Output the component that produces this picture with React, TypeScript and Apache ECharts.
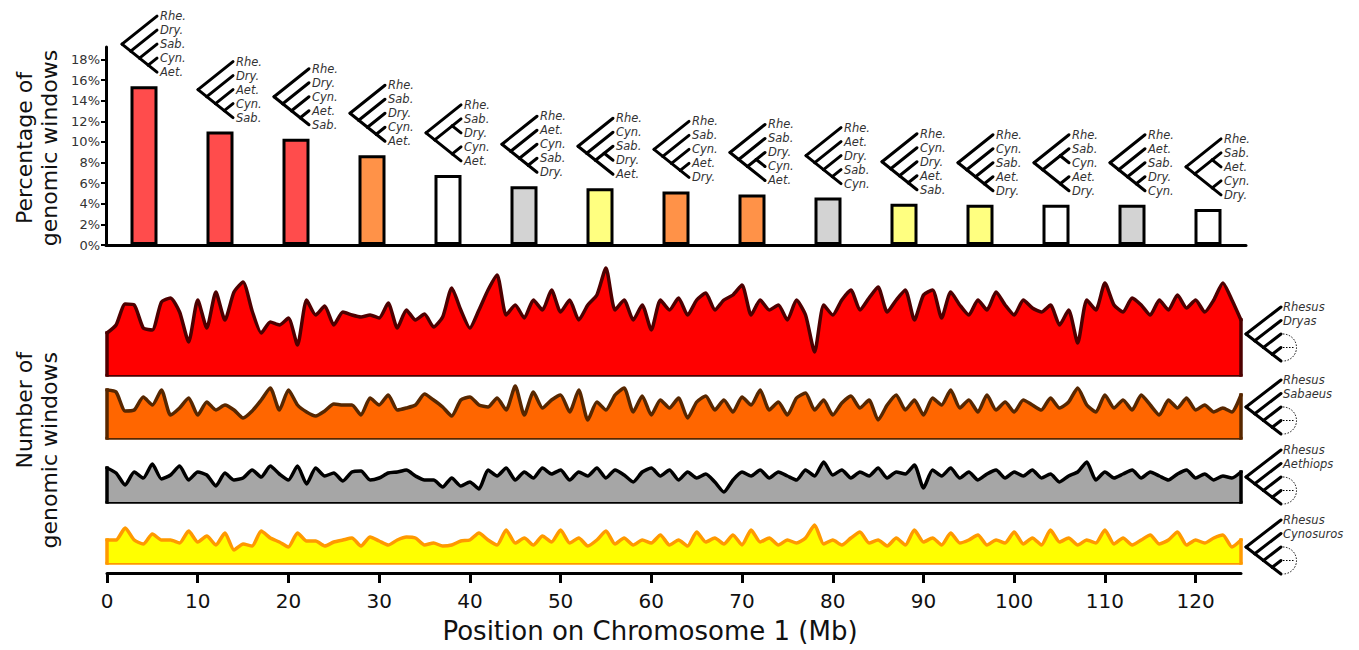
import React, { useEffect, useRef } from 'react';
import * as echarts from 'echarts';

const FONT = '"DejaVu Sans", Verdana, sans-serif';

// ---------- top panel: frequency of each topology ----------
const barPercent = [15.4, 11.0, 10.3, 8.7, 6.8, 5.7, 5.5, 5.2, 4.9, 4.6, 4.0, 3.9, 3.9, 3.9, 3.5];
const barGroup = ['red', 'red', 'red', 'orange', 'white', 'grey', 'yellow', 'orange', 'orange', 'grey', 'yellow', 'yellow', 'white', 'grey', 'white'];
const treeLeaves = [
  ['Rhe.', 'Dry.', 'Sab.', 'Cyn.', 'Aet.'],
  ['Rhe.', 'Dry.', 'Aet.', 'Cyn.', 'Sab.'],
  ['Rhe.', 'Dry.', 'Cyn.', 'Aet.', 'Sab.'],
  ['Rhe.', 'Sab.', 'Dry.', 'Cyn.', 'Aet.'],
  ['Rhe.', 'Sab.', 'Dry.', 'Cyn.', 'Aet.'],
  ['Rhe.', 'Aet.', 'Cyn.', 'Sab.', 'Dry.'],
  ['Rhe.', 'Cyn.', 'Sab.', 'Dry.', 'Aet.'],
  ['Rhe.', 'Sab.', 'Cyn.', 'Aet.', 'Dry.'],
  ['Rhe.', 'Sab.', 'Dry.', 'Cyn.', 'Aet.'],
  ['Rhe.', 'Aet.', 'Dry.', 'Sab.', 'Cyn.'],
  ['Rhe.', 'Cyn.', 'Dry.', 'Aet.', 'Sab.'],
  ['Rhe.', 'Cyn.', 'Sab.', 'Aet.', 'Dry.'],
  ['Rhe.', 'Sab.', 'Cyn.', 'Aet.', 'Dry.'],
  ['Rhe.', 'Aet.', 'Sab.', 'Dry.', 'Cyn.'],
  ['Rhe.', 'Sab.', 'Aet.', 'Cyn.', 'Dry.'],
];
const treeShape = ['comb', 'comb', 'comb', 'comb', 'pairs', 'comb', 'inner', 'comb', 'inner', 'comb', 'comb', 'comb', 'pairs', 'comb', 'pairs'];
const yTicksPct = [0, 2, 4, 6, 8, 10, 12, 14, 16, 18];

// ---------- bottom panels: windows supporting each topology along chromosome 1 ----------
const windowMb = Array.from({ length: 126 }, (_, i) => i);
const dryasCounts = [42, 50, 71, 70, 47, 45, 73, 77, 63, 33, 75, 47, 83, 55, 83, 93, 64, 42, 53, 50, 57, 30, 75, 60, 69, 50, 63, 60, 58, 60, 57, 72, 47, 65, 55, 61, 48, 58, 87, 65, 47, 65,
  85, 100, 60, 70, 57, 75, 65, 85, 63, 75, 55, 70, 80, 107, 65, 75, 55, 70, 45, 75, 65, 77, 60, 75, 82, 65, 75, 80, 90, 60, 75, 65, 70, 55, 75, 60, 23, 70, 60, 75, 85, 65, 77, 88, 63, 75, 85, 55, 80, 85, 57, 83, 70, 60, 75, 65, 83, 70, 60, 75, 67, 63, 70, 50, 65, 32, 75, 65, 92, 70, 63, 77, 70, 60, 75, 65, 80, 67, 75, 63, 75, 92, 75, 55];
const sabaeusCounts = [48, 46, 27, 28, 41, 33, 48, 23, 30, 40, 23, 36, 28, 33, 28, 20, 27, 38, 50, 28, 48, 33, 26, 22, 27, 34, 33, 33, 23, 40, 33, 43, 28, 30, 33, 44, 38, 31, 22, 38, 41, 33,
  31, 40, 28, 52, 23, 46, 30, 38, 43, 26, 48, 18, 36, 28, 43, 50, 26, 42, 23, 38, 30, 40, 20, 36, 42, 28, 38, 26, 41, 33, 48, 28, 36, 23, 40, 45, 28, 38, 23, 35, 42, 30, 38, 18, 33, 43, 28, 38, 23, 40, 33, 48, 30, 38, 26, 43, 28, 36, 26, 38, 33, 28, 40, 30, 36, 50, 33, 26, 43, 30, 38, 28, 43, 33, 23, 38, 30, 40, 28, 33, 26, 30, 26, 43];
const aethiopsCounts = [34, 29, 17, 30, 24, 38, 23, 27, 36, 22, 30, 27, 16, 29, 22, 24, 32, 25, 36, 28, 22, 36, 18, 34, 26, 29, 21, 30, 31, 22, 24, 29, 30, 32, 26, 22, 22, 15, 24, 16, 20, 13,
  32, 26, 34, 22, 30, 24, 34, 28, 32, 22, 30, 26, 34, 24, 32, 27, 20, 30, 34, 26, 32, 22, 30, 24, 28, 20, 10, 22, 30, 26, 32, 24, 30, 26, 22, 32, 26, 40, 27, 32, 24, 30, 26, 34, 24, 30, 28, 37, 14, 32, 26, 34, 24, 30, 22, 28, 32, 24, 30, 26, 32, 24, 28, 20, 26, 30, 40, 22, 30, 24, 28, 32, 24, 30, 26, 22, 28, 32, 24, 28, 22, 26, 24, 30];
const cynosurosCounts = [23, 23, 35, 23, 19, 29, 23, 23, 20, 32, 21, 27, 18, 30, 13, 19, 17, 32, 25, 21, 16, 30, 22, 22, 17, 21, 23, 25, 17, 26, 22, 18, 23, 26, 25, 18, 20, 17, 18, 22, 23, 30,
  23, 18, 33, 20, 25, 18, 27, 21, 33, 20, 25, 17, 23, 32, 19, 25, 18, 23, 20, 28, 18, 23, 17, 31, 21, 25, 19, 28, 18, 33, 21, 25, 18, 23, 20, 25, 38, 19, 23, 18, 25, 31, 20, 23, 17, 25, 18, 33, 21, 25, 18, 30, 20, 23, 28, 18, 23, 20, 31, 19, 25, 18, 33, 21, 25, 18, 23, 20, 33, 19, 25, 18, 23, 28, 19, 23, 31, 18, 23, 20, 25, 28, 16, 23];
const panelSpecies = ['Dryas', 'Sabaeus', 'Aethiops', 'Cynosuros'];
const xTicksMb = [0, 10, 20, 30, 40, 50, 60, 70, 80, 90, 100, 110, 120];

// ---------- styling / layout ----------
const BAR_COLORS: Record<string, string> = { red: '#ff4c4c', orange: '#ff9248', white: '#ffffff', grey: '#d3d3d3', yellow: '#ffff80' };
const SHAPES: Record<string, any> = {
  comb: [0, [1, [2, [3, 4]]]],
  pairs: [0, [[1, 2], [3, 4]]],
  inner: [0, [1, [[2, 3], 4]]],
};
const PANEL_STYLE = [
  { fill: '#ff0000', stroke: '#4d0000', top: 265, height: 110, treeTop: 307 },
  { fill: '#ff6600', stroke: '#572700', top: 380, height: 58, treeTop: 380 },
  { fill: '#a6a6a6', stroke: '#000000', top: 455, height: 47, treeTop: 450 },
  { fill: '#ffff00', stroke: '#ff9900', top: 520, height: 43, treeTop: 520 },
];
const panelCounts = [dryasCounts, sabaeusCounts, aethiopsCounts, cynosurosCounts];

function span(node: any): [number, number] {
  if (typeof node === 'number') return [node, node];
  return [span(node[0])[0], span(node[node.length - 1])[1]];
}
function nodePos(node: any, tipX: number, topY: number, gap: number, unit: number) {
  const [a, b] = span(node);
  return [tipX - (b - a) * unit, topY + ((a + b) / 2) * gap];
}
function treeSegments(node: any, tipX: number, topY: number, gap: number, unit: number, out: number[][] = []) {
  if (typeof node === 'number') return out;
  const p = nodePos(node, tipX, topY, gap, unit);
  for (const c of node) {
    const q = nodePos(c, tipX, topY, gap, unit);
    out.push([p[0], p[1], q[0], q[1]]);
    treeSegments(c, tipX, topY, gap, unit, out);
  }
  return out;
}
function newick(node: any, leaves: string[]): string {
  if (typeof node === 'number') return leaves[node].replace('.', '');
  return '(' + node.map((c: any) => newick(c, leaves)).join(',') + ')';
}

export default function App() {
  const ref = useRef<HTMLDivElement>(null);
  useEffect(() => {
    if (!ref.current) return;
    const chart = echarts.init(ref.current, undefined, { renderer: 'svg' });
    const categories = treeLeaves.map((l, i) => newick(SHAPES[treeShape[i]], l));

    const grids: any[] = [{ left: 106, top: 47, width: 1140, height: 198 }];
    const xAxes: any[] = [{
      type: 'category', gridIndex: 0, data: categories,
      axisLine: { lineStyle: { color: '#000', width: 3 } }, axisTick: { show: false }, axisLabel: { show: false },
    }];
    const yAxes: any[] = [{
      type: 'value', gridIndex: 0, min: 0, max: 19.2,
      axisLine: { show: true, lineStyle: { color: '#000', width: 3 } },
      axisTick: { show: true, length: 5, lineStyle: { color: '#000', width: 2 }, customValues: yTicksPct },
      axisLabel: { customValues: yTicksPct, formatter: '{value}%', fontSize: 13, color: '#333', fontFamily: FONT, margin: 6 },
      splitLine: { show: false },
    }];
    const series: any[] = [
      {
        type: 'bar', xAxisIndex: 0, yAxisIndex: 0, barWidth: 27,
        data: barPercent.map((v, i) => ({ value: v, itemStyle: { color: BAR_COLORS[barGroup[i]], borderColor: '#000', borderWidth: 3 } })),
      },
      {
        type: 'custom', xAxisIndex: 0, yAxisIndex: 0, z: 5, clip: false,
        encode: { x: 0, y: 1 },
        data: barPercent.map((v, i) => [i, v]),
        renderItem: (params: any, api: any) => {
          const i = params.dataIndex;
          const pt = api.coord([api.value(0), api.value(1)]);
          const tipX = pt[0] + 13;
          const topY = pt[1] - 70;
          const segs = treeSegments(SHAPES[treeShape[i]], tipX, topY, 14, 8.75);
          const children: any[] = segs.map((s) => ({
            type: 'line', shape: { x1: s[0], y1: s[1], x2: s[2], y2: s[3] },
            style: { stroke: '#000', lineWidth: 3, lineCap: 'round' },
          }));
          treeLeaves[i].forEach((t, k) => children.push({
            type: 'text', x: tipX + 3, y: topY + k * 14,
            style: { text: t, fill: '#333', fontSize: 11.5, fontStyle: 'italic', fontFamily: FONT, align: 'left', verticalAlign: 'middle', textAlign: 'left', textVerticalAlign: 'middle' },
          }));
          return { type: 'group', children };
        },
      },
    ];

    PANEL_STYLE.forEach((p, k) => {
      const gi = k + 1;
      grids.push({ left: 107, width: 1134, top: p.top, height: p.height });
      xAxes.push({
        type: 'value', gridIndex: gi, min: 0, max: 125,
        axisLine: { show: true, onZero: false, lineStyle: { color: p.stroke, width: 3.5 } },
        axisTick: { show: false }, axisLabel: { show: false }, splitLine: { show: false },
      });
      yAxes.push({ type: 'value', gridIndex: gi, min: 0, max: p.height, show: false, splitLine: { show: false } });
      const vals = panelCounts[k];
      const last = windowMb.length - 1;
      series.push({
        type: 'line', xAxisIndex: gi, yAxisIndex: gi, data: windowMb.map((x, i) => [x, vals[i]]),
        symbol: 'none', showSymbol: false, clip: false, smooth: 0.2,
        lineStyle: { color: p.stroke, width: 3.5, join: 'round', cap: 'round' },
        areaStyle: { color: p.fill, opacity: 1 },
      });
      // closing edges of the filled profile (left and right ends down to the baseline)
      [[[windowMb[0], 0], [windowMb[0], vals[0]]], [[windowMb[last], vals[last]], [windowMb[last], 0]]].forEach((edge) => {
        series.push({
          type: 'line', xAxisIndex: gi, yAxisIndex: gi, data: edge, symbol: 'none', showSymbol: false, clip: false,
          lineStyle: { color: p.stroke, width: 3.5, cap: 'square' }, z: 3,
        });
      });
    });

    // shared position axis
    grids.push({ left: 107, width: 1134, top: 572, height: 1 });
    xAxes.push({
      type: 'value', gridIndex: 5, min: 0, max: 125,
      axisLine: { show: true, onZero: false, lineStyle: { color: '#000', width: 3 } },
      axisTick: { show: true, length: 10, lineStyle: { color: '#000', width: 3 }, customValues: xTicksMb },
      axisLabel: { customValues: xTicksMb, fontSize: 20, color: '#111', fontFamily: FONT, margin: 18 },
      splitLine: { show: false },
    });
    yAxes.push({ type: 'value', gridIndex: 5, min: 0, max: 1, show: false });
    series.push({ type: 'line', xAxisIndex: 5, yAxisIndex: 5, data: [] });

    // side trees for each panel
    const graphics: any[] = [];
    PANEL_STYLE.forEach((p, k) => {
      const tipX = 1281, gap = 13.5;
      const segs = treeSegments(SHAPES.comb, tipX, p.treeTop, gap, 8.75);
      segs.forEach((s) => graphics.push({
        type: 'line', shape: { x1: s[0], y1: s[1], x2: s[2], y2: s[3] },
        style: { stroke: '#000', lineWidth: 3, lineCap: 'round' },
      }));
      ['Rhesus', panelSpecies[k]].forEach((t, j) => graphics.push({
        type: 'text', x: tipX + 2, y: p.treeTop + j * gap,
        style: { text: t, fill: '#333', fontSize: 11.5, fontStyle: 'italic', fontFamily: FONT, textAlign: 'left', textVerticalAlign: 'middle', align: 'left', verticalAlign: 'middle' },
      }));
      const cy = p.treeTop + 3 * gap;
      graphics.push({
        type: 'arc', shape: { cx: tipX + 2, cy, r: gap, startAngle: -Math.PI / 2, endAngle: Math.PI / 2, clockwise: true },
        style: { stroke: '#000', lineWidth: 1, lineDash: [1.5, 1.5], fill: 'none' },
      });
      graphics.push({
        type: 'line', shape: { x1: tipX + 2, y1: cy, x2: tipX + 13, y2: cy },
        style: { stroke: '#000', lineWidth: 1, lineDash: [1.5, 1.5] },
      });
    });
    graphics.push({
      type: 'text', x: 37, y: 148, rotation: Math.PI / 2,
      style: { text: 'Percentage of\ngenomic windows', fill: '#111', fontSize: 22, fontFamily: FONT, lineHeight: 25, textAlign: 'center', textVerticalAlign: 'middle', align: 'center', verticalAlign: 'middle' },
    });
    graphics.push({
      type: 'text', x: 37, y: 352, rotation: Math.PI / 2,
      style: { text: 'Number of\ngenomic windows', fill: '#111', fontSize: 22, fontFamily: FONT, lineHeight: 25, textAlign: 'right', textVerticalAlign: 'middle', align: 'right', verticalAlign: 'middle' },
    });
    graphics.push({
      type: 'text', x: 650, y: 631,
      style: { text: 'Position on Chromosome 1 (Mb)', fill: '#111', fontSize: 26, fontFamily: FONT, textAlign: 'center', textVerticalAlign: 'middle', align: 'center', verticalAlign: 'middle' },
    });

    chart.setOption({
      animation: false,
      backgroundColor: '#ffffff',
      textStyle: { fontFamily: FONT },
      grid: grids,
      xAxis: xAxes,
      yAxis: yAxes,
      series,
      graphic: graphics,
    });
    return () => chart.dispose();
  }, []);
  return <div ref={ref} style={{ position: 'fixed', left: 0, top: 0, width: 1359, height: 650 }} />;
}
